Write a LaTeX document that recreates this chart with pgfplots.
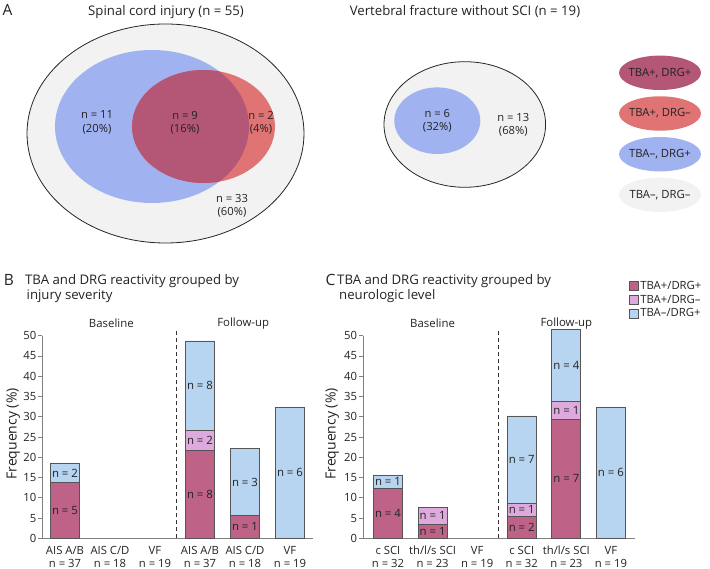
\documentclass[border=0pt]{standalone}
\usepackage{fontspec}
\setmainfont{Open Sans}
\usepackage{pgfplots}
\pgfplotsset{compat=1.18}

\definecolor{vblue}{RGB}{160,178,240}
\definecolor{vred}{RGB}{224,116,116}
\definecolor{vover}{RGB}{180,86,118}
\definecolor{vgray}{RGB}{242,242,242}
\definecolor{bred}{RGB}{190,98,135}
\definecolor{bpink}{RGB}{222,170,222}
\definecolor{bblue}{RGB}{183,212,240}
\definecolor{bedge}{RGB}{85,85,85}
\definecolor{axgray}{RGB}{128,128,128}
\definecolor{txt}{RGB}{35,35,35}

\newcommand\ftick{\fontsize{11.3}{13.4}\selectfont}
\newcommand\flab{\fontsize{14}{16}\selectfont}
\newcommand\ftitle{\fontsize{13.2}{15}\selectfont}
\newcommand\fbase{\fontsize{11.4}{13}\selectfont}
\newcommand\fletter{\fontsize{15.5}{17}\selectfont}
\newcommand\fbar{\fontsize{11.4}{13}\selectfont}
\newcommand\fvenn{\fontsize{11.2}{13.3}\selectfont}
\newcommand\fleg{\fontsize{11.3}{13}\selectfont}

\pgfplotsset{
  legsq/.style={legend image code/.code={\draw[##1, line width=0.6pt] (0pt,-4.5pt) rectangle (9pt,4.5pt);}},
  barax/.style={
    anchor=south west, scale only axis, height=202.6pt, ymin=0, ymax=50, clip=false,
    axis x line=bottom, axis y line=left,
    axis line style={draw=axgray, line width=1.2pt, -},
    ytick={0,5,...,50}, tick align=outside, major tick length=4pt,
    ytick style={draw=axgray, line width=0.8pt},
    xtick={0,...,5}, xtick style={draw=none},
    /pgf/number format/assume math mode=true,
    yticklabel style={font=\ftick, text=txt, inner sep=2pt},
    xticklabel style={font=\ftick, text=txt, align=center, inner sep=0pt,
      text height=21.7pt, text depth=0pt, anchor=north, yshift=-3.4pt},
    ylabel={Frequency (\%)},
    ybar, bar width=29pt, bar shift=0pt,
  },
  bstyle/.style={draw=bedge, line width=0.8pt, fill=#1, legsq},
}

\begin{document}
\begin{tikzpicture}[x=1pt,y=1pt]
\path[use as bounding box] (0,0) rectangle (710,569);

% ---------------- Panel A (Venn diagrams) ----------------
\begin{axis}[at={(0pt,0pt)}, anchor=south west, width=710pt, height=569pt, scale only axis,
  xmin=0, xmax=710, ymin=0, ymax=569, y dir=reverse, axis lines=none, clip=false]
  % left Venn
  \fill[vgray] (axis cs:165.5,133.5) ellipse [x radius=138.5pt, y radius=109.5pt];
  \fill[vblue] (axis cs:152,126.5) ellipse [x radius=97pt, y radius=76.5pt];
  \fill[vred] (axis cs:203.5,126.5) ellipse [x radius=71.5pt, y radius=56.5pt];
  \begin{scope}
    \clip (axis cs:152,126.5) ellipse [x radius=97pt, y radius=76.5pt];
    \fill[vover] (axis cs:203.5,126.5) ellipse [x radius=71.5pt, y radius=56.5pt];
  \end{scope}
  \draw[black!85, line width=0.8pt] (axis cs:165.5,133.5) ellipse [x radius=138.5pt, y radius=109.5pt];
  \node[align=center, font=\fvenn, text=txt] at (axis cs:97,122.5) {n = 11\\(20\%)};
  \node[align=center, font=\fvenn, text=txt] at (axis cs:185,122.5) {n = 9\\(16\%)};
  \node[align=center, font=\fvenn, text=txt] at (axis cs:261,122.5) {n = 2\\(4\%)};
  \node[align=center, font=\fvenn, text=txt] at (axis cs:232,205.5) {n = 33\\(60\%)};
  % right Venn
  \fill[vgray] (axis cs:464.8,124.5) ellipse [x radius=80.8pt, y radius=62.8pt];
  \fill[vblue] (axis cs:437.3,120.7) ellipse [x radius=43pt, y radius=33.3pt];
  \draw[black!85, line width=0.8pt] (axis cs:464.8,124.5) ellipse [x radius=80.8pt, y radius=62.8pt];
  \node[align=center, font=\fvenn, text=txt] at (axis cs:437.3,120.5) {n = 6\\(32\%)};
  \node[align=center, font=\fvenn, text=txt] at (axis cs:513.3,124.5) {n = 13\\(68\%)};
  % legend ellipses
  \fill[vover] (axis cs:660,72.8) ellipse [x radius=41pt, y radius=17.2pt];
  \fill[vred]  (axis cs:660,113.5) ellipse [x radius=41pt, y radius=17.2pt];
  \fill[vblue] (axis cs:660,154.2) ellipse [x radius=41pt, y radius=17.2pt];
  \fill[vgray] (axis cs:660,194.8) ellipse [x radius=41pt, y radius=17.2pt];
  \node[font=\fleg, text=txt] at (axis cs:660,72.8) {TBA+, DRG+};
  \node[font=\fleg, text=txt] at (axis cs:660,113.5) {TBA+, DRG–};
  \node[font=\fleg, text=txt] at (axis cs:660,154.2) {TBA–, DRG+};
  \node[font=\fleg, text=txt] at (axis cs:660,194.8) {TBA–, DRG–};
  % titles
  \node[font=\fletter, text=txt, anchor=base, inner sep=0pt] at (axis cs:7.5,15.5) {A};
  \node[font=\ftitle, text=txt, anchor=base, inner sep=0pt] at (axis cs:166,15.5) {Spinal cord injury (n = 55)};
  \node[font=\ftitle, text=txt, anchor=base, inner sep=0pt] at (axis cs:465,15.5) {Vertebral fracture without SCI (n = 19)};
  \node[font=\fletter, text=txt, anchor=base, inner sep=0pt] at (axis cs:8.8,286) {B};
  \node[font=\ftitle, text=txt, anchor=base west, inner sep=0pt] at (axis cs:25,285) {TBA and DRG reactivity grouped by};
  \node[font=\ftitle, text=txt, anchor=base west, inner sep=0pt] at (axis cs:26.5,300) {injury severity};
  \node[font=\fletter, text=txt, anchor=base, inner sep=0pt] at (axis cs:330.5,286) {C};
  \node[font=\ftitle, text=txt, anchor=base west, inner sep=0pt] at (axis cs:337,285) {TBA and DRG reactivity grouped by};
  \node[font=\ftitle, text=txt, anchor=base west, inner sep=0pt] at (axis cs:339,300) {neurologic level};
\end{axis}

% ---------------- Panel B ----------------
\begin{axis}[barax, at={(42.5pt,30.7pt)}, width=270pt, xmin=-0.5, xmax=5.5,
  xticklabels={{AIS A/B\\n = 37},{AIS C/D\\n = 18},{VF\\n = 19},{AIS A/B\\n = 37},{AIS C/D\\n = 18},{VF\\n = 19}},
  ylabel style={at={(axis description cs:-0.108,0.515)}, anchor=center, font=\flab, text=txt}]
  % segment tops (cumulative)
  \addplot[bstyle=bblue] coordinates {(0,18.4) (3,48.7) (4,22.1) (5,32.3)};
  \addplot[bstyle=bpink] coordinates {(3,26.7)};
  \addplot[bstyle=bred]  coordinates {(0,13.7) (3,21.7) (4,5.7)};
  \addplot[sharp plot, draw=black!80, line width=0.8pt, dash pattern=on 4pt off 3pt, forget plot] coordinates {(2.47,0) (2.47,51.5)};
  \node[font=\fbar, text=txt] at (axis cs:0,6.85) {n = 5};
  \node[font=\fbar, text=txt] at (axis cs:0,16.05) {n = 2};
  \node[font=\fbar, text=txt] at (axis cs:3,10.85) {n = 8};
  \node[font=\fbar, text=txt] at (axis cs:3,24.2) {n = 2};
  \node[font=\fbar, text=txt] at (axis cs:3,37.7) {n = 8};
  \node[font=\fbar, text=txt] at (axis cs:4,2.85) {n = 1};
  \node[font=\fbar, text=txt] at (axis cs:4,13.9) {n = 3};
  \node[font=\fbar, text=txt] at (axis cs:5,16.15) {n = 6};
  \node[font=\fbase, text=txt] at (axis cs:1.03,53.06) {Baseline};
  \node[font=\fbase, text=txt] at (axis cs:3.96,53.06) {Follow-up};
\end{axis}

% ---------------- Panel C ----------------
\begin{axis}[barax, at={(363.3pt,30.7pt)}, width=272pt, xmin=-0.554, xmax=5.546,
  xticklabels={{c SCI\\n = 32},{th/l/s SCI\\n = 23},{VF\\n = 19},{c SCI\\n = 32},{th/l/s SCI\\n = 23},{VF\\n = 19}},
  ylabel style={at={(axis description cs:-0.114,0.515)}, anchor=center, font=\flab, text=txt},
  reverse legend,
  legend style={at={(rel axis cs:0.9717,1.285)}, anchor=north west, draw=none, fill=none,
    font=\fleg, text=txt, row sep=0pt, inner sep=1pt},
  legend cell align=left]
  \addplot[bstyle=bblue] coordinates {(0,15.5) (3,30.2) (4,51.5) (5,32.3)};
  \addplot[bstyle=bpink] coordinates {(1,7.7) (3,8.6) (4,33.7)};
  \addplot[bstyle=bred]  coordinates {(0,12.4) (1,3.5) (3,5.5) (4,29.4)};
  \legend{TBA–/DRG+, TBA+/DRG–, TBA+/DRG+}
  \addplot[sharp plot, draw=black!80, line width=0.8pt, dash pattern=on 4pt off 3pt, forget plot] coordinates {(2.47,0) (2.47,51.5)};
  \node[font=\fbar, text=txt] at (axis cs:0,6.2) {n = 4};
  \node[font=\fbar, text=txt] at (axis cs:0,13.95) {n = 1};
  \node[font=\fbar, text=txt] at (axis cs:1,1.75) {n = 1};
  \node[font=\fbar, text=txt] at (axis cs:1,5.6) {n = 1};
  \node[font=\fbar, text=txt] at (axis cs:3,2.75) {n = 2};
  \node[font=\fbar, text=txt] at (axis cs:3,7.05) {n = 1};
  \node[font=\fbar, text=txt] at (axis cs:3,19.4) {n = 7};
  \node[font=\fbar, text=txt] at (axis cs:4,14.7) {n = 7};
  \node[font=\fbar, text=txt] at (axis cs:4,31.55) {n = 1};
  \node[font=\fbar, text=txt] at (axis cs:4,42.6) {n = 4};
  \node[font=\fbar, text=txt] at (axis cs:5,16.15) {n = 6};
  \node[font=\fbase, text=txt] at (axis cs:1.0,53.06) {Baseline};
  \node[font=\fbase, text=txt] at (axis cs:4.0,53.06) {Follow-up};
\end{axis}
\end{tikzpicture}
\end{document}
